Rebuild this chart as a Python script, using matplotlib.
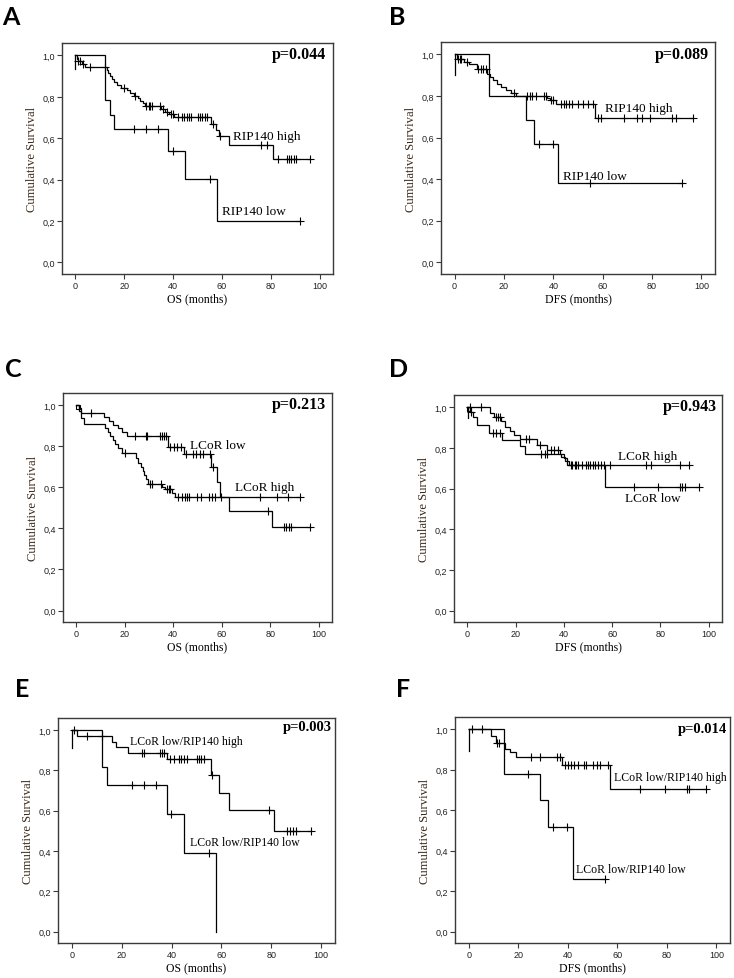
import numpy as np
import matplotlib
matplotlib.use("Agg")
import matplotlib.pyplot as plt

# ---------------- data ----------------
A_high_t = [0.5, 1.0, 2.5, 4.0, 12.8, 13.5, 14.3, 15.0, 16.0, 17.0, 18.5, 21.0, 22.5, 24.0, 25.5, 26.5, 27.5, 28.5,
            35.0, 36.5, 38.5, 40.5, 55.5, 57.5, 59.0, 63.0, 81.0]
A_high_s = [0.985, 0.972, 0.957, 0.942, 0.928, 0.914, 0.900, 0.886, 0.872, 0.858, 0.845, 0.832, 0.819, 0.806, 0.793,
            0.781, 0.768, 0.756, 0.742, 0.729, 0.716, 0.703, 0.668, 0.640, 0.613, 0.565, 0.502]
A_high_c = [1.2, 2.0, 3.0, 6.0, 12.2, 20.0, 24.5, 29.0, 30.0, 30.5, 31.5, 34.5, 36.0, 37.5, 39.0, 40.0, 42.0, 43.5,
            44.5, 45.5, 46.5, 47.5, 50.0, 51.0, 52.0, 53.0, 54.0, 56.5, 59.3, 76.0, 78.5, 83.0, 86.5, 87.5, 88.5,
            89.5, 90.5, 96.0]
A_low_t = [12.0, 14.3, 16.0, 38.0, 45.0, 58.0]
A_low_s = [0.786, 0.714, 0.643, 0.536, 0.402, 0.201]
A_low_c = [24.0, 29.0, 34.0, 40.0, 55.0, 92.0]

B_high_t = [0.8, 4.0, 6.0, 9.0, 13.0, 14.5, 15.5, 17.0, 19.0, 21.0, 23.0, 25.0, 37.5, 38.5, 41.0, 57.0]
B_high_s = [0.976, 0.965, 0.955, 0.930, 0.905, 0.890, 0.875, 0.860, 0.845, 0.830, 0.815, 0.800, 0.790, 0.780,
            0.760, 0.696]
B_high_c = [1.2, 2.0, 2.8, 5.0, 9.5, 10.6, 11.7, 12.6, 24.1, 29.5, 30.5, 31.2, 32.9, 36.3, 37.0, 39.0, 39.7, 43.1,
            44.2, 45.3, 46.3, 47.4, 49.9, 51.9, 54.2, 56.1, 58.3, 59.2, 68.8, 74.0, 75.9, 79.0, 88.1, 89.8, 96.6]
B_low_t = [14.0, 29.0, 32.0, 42.0]
B_low_s = [0.800, 0.686, 0.571, 0.381]
B_low_c = [34.0, 40.0, 55.0, 92.0]

C_low_t = [1.0, 2.0, 11.4, 13.5, 15.0, 17.0, 19.0, 21.0, 38.0, 44.4, 55.7, 58.0, 59.1, 63.0, 80.9]
C_low_s = [0.985, 0.962, 0.943, 0.923, 0.905, 0.888, 0.870, 0.852, 0.795, 0.762, 0.697, 0.628, 0.551, 0.486, 0.405]
C_low_c = [5.9, 24.1, 28.6, 29.3, 34.4, 35.2, 36.0, 36.9, 38.8, 40.2, 41.5, 43.3, 45.4, 48.1, 49.5, 50.9, 52.3,
           55.0, 56.4, 79.1, 85.6, 86.7, 87.8, 88.7, 96.3]
C_high_t = [1.0, 2.0, 3.0, 12.0, 13.0, 14.0, 15.0, 16.0, 17.0, 19.0, 24.5, 25.5, 26.5, 27.5, 28.0, 28.8, 29.5, 35.5,
            36.5, 39.5, 40.8]
C_high_s = [0.970, 0.940, 0.909, 0.890, 0.870, 0.850, 0.830, 0.810, 0.790, 0.770, 0.745, 0.720, 0.700, 0.680,
            0.660, 0.640, 0.615, 0.600, 0.590, 0.575, 0.551]
C_high_c = [20.0, 30.5, 31.2, 34.8, 37.5, 38.2, 38.8, 42.0, 43.7, 44.7, 45.7, 46.5, 49.8, 51.6, 54.7, 56.1, 57.1,
            59.5, 75.7, 83.0, 87.3, 92.2]

D_high_t = [9.4, 11.0, 14.0, 15.5, 17.5, 19.5, 22.0, 29.0, 33.0, 38.5, 40.0, 41.5]
D_high_s = [0.970, 0.952, 0.930, 0.905, 0.885, 0.865, 0.845, 0.815, 0.790, 0.770, 0.750, 0.718]
D_high_c = [1.0, 5.5, 12.0, 12.8, 13.5, 24.5, 25.5, 30.0, 34.5, 36.0, 37.5, 43.0, 45.0, 47.5, 50.0, 52.0, 54.0,
            55.5, 59.0, 74.0, 76.0, 88.0, 92.0]
D_low_t = [1.0, 2.5, 4.0, 9.2, 14.3, 22.0, 24.0, 39.0, 40.5, 42.0, 57.0]
D_low_s = [0.975, 0.950, 0.913, 0.872, 0.840, 0.808, 0.770, 0.755, 0.735, 0.715, 0.610]
D_low_c = [1.5, 10.5, 12.0, 13.5, 30.5, 32.0, 33.0, 43.5, 44.5, 46.0, 49.0, 51.0, 53.0, 56.5, 69.0, 79.0, 88.0,
           89.0, 90.0, 96.0]

E_high_t = [2.0, 16.0, 17.8, 22.4, 38.2, 55.8, 58.9, 62.9, 81.0]
E_high_s = [0.972, 0.942, 0.916, 0.888, 0.855, 0.776, 0.686, 0.602, 0.500]
E_high_c = [0.9, 6.3, 12.0, 28.1, 29.0, 35.2, 36.0, 36.8, 39.2, 41.1, 42.8, 43.8, 44.8, 46.2, 50.2, 51.1, 51.9,
            53.1, 56.2, 79.0, 86.1, 87.5, 88.5, 89.7, 96.0]
E_low_t = [12.0, 14.0, 38.0, 45.0, 58.0]
E_low_s = [0.818, 0.727, 0.582, 0.388, 0.0]
E_low_c = [24.1, 28.8, 33.9, 39.9, 55.2]

F_high_t = [9.0, 11.0, 14.5, 16.5, 19.0, 37.8, 56.9]
F_high_s = [0.967, 0.934, 0.902, 0.885, 0.863, 0.822, 0.704]
F_high_c = [1.2, 5.2, 11.6, 12.3, 25.0, 29.0, 35.5, 36.8, 39.1, 40.2, 41.4, 42.7, 44.0, 46.5, 47.5, 50.2, 51.8,
            53.1, 56.1, 69.2, 79.2, 88.2, 89.0, 96.0]
F_low_t = [14.1, 29.0, 32.1, 42.2]
F_low_s = [0.778, 0.648, 0.519, 0.259]
F_low_c = [24.1, 34.1, 39.8, 55.2]

panel_letters = ["A", "B", "C", "D", "E", "F"]
x_labels = ["OS (months)", "DFS (months)", "OS (months)", "DFS (months)", "OS (months)", "DFS (months)"]
p_values = ["p=0.044", "p=0.089", "p=0.213", "p=0.943", "p=0.003", "p=0.014"]
x_ticks = [0, 20, 40, 60, 80, 100]
y_ticks = [0.0, 0.2, 0.4, 0.6, 0.8, 1.0]
y_tick_labels = ["0,0", "0,2", "0,4", "0,6", "0,8", "1,0"]
start_drop = [0.935, 0.90, None, 0.945, 0.913, 0.893]

# ---------------- layout ----------------
W, H = 734, 979
fig = plt.figure(figsize=(W / 100, H / 100), dpi=100)
fig.patch.set_facecolor("white")

boxes = [(62, 333, 44, 275), (441, 715, 43, 275), (63, 332, 394, 623),
         (454, 722, 396, 623), (58, 335, 719, 944), (455, 730, 718, 944)]
letter_pos = [(2, 25), (389, 25), (5, 377), (389, 377), (15, 697), (396, 697)]
p_pos = [(0.974, 0.952), (0.979, 0.948), (0.978, 0.952), (0.979, 0.950), (0.988, 0.963), (0.989, 0.950)]
p_size = [11.5, 11.5, 11.5, 11.5, 10.5, 10.5]
lab_size = [9.5, 9.5, 9.5, 9.5, 8.5, 8.5]

curves = [
    [(A_high_t, A_high_s, A_high_c), (A_low_t, A_low_s, A_low_c)],
    [(B_high_t, B_high_s, B_high_c), (B_low_t, B_low_s, B_low_c)],
    [(C_low_t, C_low_s, C_low_c), (C_high_t, C_high_s, C_high_c)],
    [(D_high_t, D_high_s, D_high_c), (D_low_t, D_low_s, D_low_c)],
    [(E_high_t, E_high_s, E_high_c), (E_low_t, E_low_s, E_low_c)],
    [(F_high_t, F_high_s, F_high_c), (F_low_t, F_low_s, F_low_c)],
]
labels = [
    [("RIP140 high", 64.5, 0.612), ("RIP140 low", 60.1, 0.249)],
    [("RIP140 high", 61.1, 0.744), ("RIP140 low", 43.9, 0.415)],
    [("LCoR low", 47.0, 0.806), ("LCoR high", 65.3, 0.603)],
    [("LCoR high", 62.5, 0.761), ("LCoR low", 65.3, 0.554)],
    [("LCoR low/RIP140 high", 23.3, 0.947), ("LCoR low/RIP140 low", 47.4, 0.444)],
    [("LCoR low/RIP140 high", 58.5, 0.762), ("LCoR low/RIP140 low", 43.5, 0.310)],
]

serif = "Liberation Serif"
sans = "Liberation Sans"
frame_col = "#3a3a3a"

for i in range(6):
    l, r, t, b = boxes[i]
    ax = fig.add_axes([l / W, 1 - b / H, (r - l) / W, (b - t) / H])
    ax.set_xlim(-5.5, 105.5)
    ax.set_ylim(-0.056, 1.06)
    for sp in ax.spines.values():
        sp.set_color(frame_col)
        sp.set_linewidth(1.0)
    ax.set_xticks(x_ticks)
    ax.set_xticklabels([str(v) for v in x_ticks])
    ax.set_yticks(y_ticks)
    ax.set_yticklabels(y_tick_labels)
    ax.tick_params(direction="out", length=3.5, width=0.8, color=frame_col, labelsize=6.5, pad=1.5,
                   labelcolor="#222222")
    for lab in ax.get_xticklabels() + ax.get_yticklabels():
        lab.set_family(sans)

    for (tt, ss, cc) in curves[i]:
        tt = np.asarray(tt, float)
        ss = np.asarray(ss, float)
        cc = np.asarray(cc, float)
        xs = np.concatenate([[0.0], tt])
        ys = np.concatenate([[1.0], ss])
        end = max(tt.max(), cc.max() if len(cc) else 0)
        if end > xs[-1]:
            xs = np.append(xs, end)
            ys = np.append(ys, ys[-1])
        ax.step(xs, ys, where="post", color="black", lw=0.9, solid_joinstyle="miter")
        idx = np.searchsorted(tt, cc, side="right")
        cy = np.where(idx == 0, 1.0, ss[np.maximum(idx - 1, 0)])
        ax.plot(cc, cy, linestyle="none", marker="+", color="black", markersize=5.5, mew=0.8)

    if start_drop[i] is not None:
        x0 = 0.5 if i == 3 else 0.0
        ax.plot([x0, x0], [1.0, start_drop[i]], color="black", lw=0.9)
    if i in (2, 3):
        ax.plot([0.6], [0.993], marker="s", mfc="none", mec="black", markersize=3.5, mew=0.8)

    for (txt, x, y) in labels[i]:
        ax.text(x, y, txt, family=serif, fontsize=lab_size[i], ha="left", va="center", color="black")

    ax.text(p_pos[i][0], p_pos[i][1], p_values[i], transform=ax.transAxes, family=serif,
            fontweight="bold", fontsize=p_size[i], ha="right", va="center", color="black")

    ax.set_xlabel(x_labels[i], family=serif, fontsize=8.5, labelpad=2, color="black")
    ax.set_ylabel("Cumulative Survival", family=serif, fontsize=9.1, labelpad=3, color="#3b2a1a")

    lx, lb = letter_pos[i]
    fig.text(lx / W, 1 - lb / H, panel_letters[i], family="Lato", fontweight="bold", fontsize=18,
             ha="left", va="baseline", color="black")

fig.savefig("out.png", dpi=100, facecolor="white")
